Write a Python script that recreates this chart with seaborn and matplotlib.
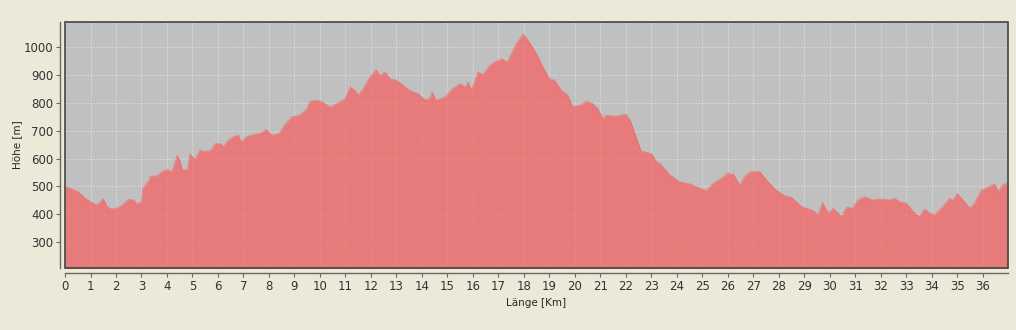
import matplotlib
matplotlib.use("Agg")
import matplotlib.pyplot as plt
import seaborn as sns
import pandas as pd
from matplotlib.patches import Rectangle

# -----------------------------
# Höhenprofil
# -----------------------------
km = [
    0.0, 0.2, 0.5, 0.8, 1.0, 1.2, 1.3, 1.5, 1.65, 1.8, 2.0, 2.2, 2.5, 2.7, 2.8, 3.0,
    3.05, 3.3, 3.35, 3.6, 3.8, 4.0, 4.2, 4.4, 4.5, 4.6, 4.8, 4.9, 5.0, 5.1, 5.3, 5.4,
    5.7, 5.9, 6.1, 6.2, 6.4, 6.6, 6.8, 6.9, 7.1, 7.3, 7.6, 7.9, 8.1, 8.4, 8.6, 8.9,
    9.2, 9.5, 9.6, 9.9, 10.1, 10.4, 10.65, 10.98, 11.18, 11.37, 11.5, 11.7, 11.96,
    12.2, 12.35, 12.55, 12.75, 13.0, 13.27, 13.5, 13.85, 14.1, 14.3, 14.4, 14.55,
    14.9, 15.2, 15.5, 15.7, 15.8, 15.95, 16.2, 16.4, 16.65, 16.95, 17.15, 17.35,
    17.7, 17.97, 18.17, 18.5, 18.75, 19.0, 19.2, 19.47, 19.73, 19.9, 20.2, 20.45,
    20.7, 20.9, 21.1, 21.25, 21.6, 21.8, 22.0, 22.2, 22.4, 22.6, 23.0, 23.2, 23.33,
    23.73, 24.1, 24.5, 24.77, 25.16, 25.4, 25.75, 26.0, 26.15, 26.2, 26.47, 26.67,
    26.9, 27.25, 27.58, 27.9, 28.24, 28.5, 28.89, 29.35, 29.55, 29.71, 29.94, 30.13,
    30.46, 30.66, 30.9, 31.1, 31.37, 31.7, 31.96, 32.35, 32.55, 32.74, 33.0, 33.27,
    33.5, 33.73, 33.92, 34.12, 34.38, 34.7, 34.84, 35.0, 35.23, 35.5, 35.68, 35.95,
    36.2, 36.47, 36.6, 36.8, 36.99,
]
hoehe = [
    500, 493, 481, 457, 445, 434, 437, 456, 428, 419, 422, 430, 454, 451, 437, 445,
    493, 523, 537, 538, 553, 561, 553, 612, 595, 561, 559, 618, 606, 597, 633, 626,
    628, 654, 654, 642, 666, 678, 684, 660, 678, 684, 690, 704, 684, 690, 720, 750,
    756, 779, 806, 809, 803, 785, 797, 815, 857, 845, 827, 851, 893,
    919, 899, 911, 887, 881, 863, 845, 833, 812, 815, 839, 809,
    821, 851, 869, 857, 875, 845, 911, 902, 934, 952, 958, 946,
    1012, 1048, 1024, 976, 928, 887, 881, 845, 827, 788, 791, 806,
    797, 779, 744, 756, 752, 756, 759, 732, 678, 627, 618, 589, 583,
    541, 517, 509, 499, 485, 509, 529, 549, 541, 547, 505, 537,
    553, 553, 517, 487, 466, 461, 428, 413, 398, 442, 404, 422,
    392, 425, 422, 451, 463, 451, 455, 451, 457, 445, 440, 410,
    392, 418, 404, 398, 422, 457, 449, 475, 451, 422, 440, 487,
    497, 509, 481, 507, 511,
]

x_ticks = list(range(0, 37))
y_ticks = [300, 400, 500, 600, 700, 800, 900, 1000]

df = pd.DataFrame({"km": km, "hoehe": hoehe})

# -----------------------------
# Stil
# -----------------------------
sns.set_theme(style="white")
plt.rcParams.update({
    "font.family": ["DejaVu Sans"],
    "figure.facecolor": "#ECE9D8",
    "axes.facecolor": "#C0C0C0",
    "text.color": "#222222",
    "xtick.color": "#333333",
    "ytick.color": "#333333",
})

fig = plt.figure(figsize=(10.16, 3.30), dpi=100)
ax = fig.add_axes([0.064, 0.188, 0.928, 0.745])

FILL = (1.0, 0.32, 0.32)
ax.fill_between(df["km"], 0, df["hoehe"], color=FILL, alpha=0.635, linewidth=0, zorder=2)
sns.lineplot(data=df, x="km", y="hoehe", ax=ax, color=FILL, alpha=0.5, linewidth=0.6, zorder=2)

ax.set_xlim(0, 36.99)
ax.set_ylim(207, 1090)
ax.set_xticks(x_ticks)
ax.set_yticks(y_ticks)

ax.grid(True, color="white", linestyle=(0, (2, 2)), linewidth=0.5, alpha=0.6)
ax.set_axisbelow(True)

# Rahmen um die Zeichenfläche
ax.add_patch(Rectangle((0, 0), 1, 1, transform=ax.transAxes, fill=False,
                       edgecolor="#444444", linewidth=1.2, zorder=5, clip_on=False))

for side in ["top", "right"]:
    ax.spines[side].set_visible(False)
for side in ["left", "bottom"]:
    ax.spines[side].set_position(("outward", 3.5))
    ax.spines[side].set_color("#666666")
    ax.spines[side].set_linewidth(1.0)

ax.tick_params(axis="both", which="major", length=3, width=0.8, color="#666666",
               labelsize=8.5, pad=2, direction="out", left=True, bottom=True)

ax.set_xlabel("Länge [Km]", fontsize=7.5, labelpad=4)
ax.set_ylabel("Höhe [m]", fontsize=7.5, labelpad=1)

fig.savefig("out.png", dpi=100, facecolor=fig.get_facecolor())
plt.close(fig)
